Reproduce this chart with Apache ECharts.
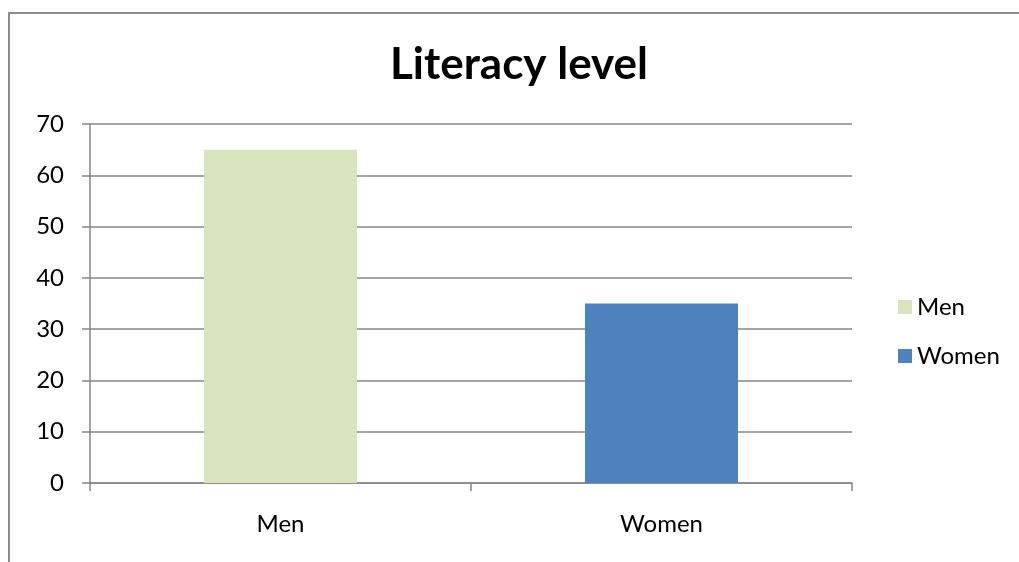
<!DOCTYPE html>
<html>
<head>
<meta charset="utf-8">
<script src="https://cdn.jsdelivr.net/npm/echarts@6/dist/echarts.min.js"></script>
<style>
  html, body { margin: 0; padding: 0; background: #fff; overflow: hidden; }
  #wrap { position: relative; width: 1019px; height: 562px; }
  #frame {
    position: absolute; left: 8px; top: 12px; right: -20px; bottom: -20px;
    border-left: 2px solid #8c8c8c; border-top: 2px solid #8c8c8c;
    pointer-events: none;
  }
  #chart { position: absolute; left: 0; top: 0; width: 1019px; height: 562px; }
</style>
</head>
<body>
<div id="wrap">
  <div id="chart"></div>
  <div id="frame"></div>
</div>
<script>
const categories = ['Men', 'Women'];
const values = [65, 35];
const barColors = ['#D7E4BD', '#4F81BD'];

const chart = echarts.init(document.getElementById('chart'));
const font = 'Lato, "Open Sans", sans-serif';

const option = {
  animation: false,
  title: {
    text: 'Literacy level',
    left: 514,
    top: 38,
    textAlign: 'center',
    textStyle: { fontFamily: font, fontSize: 44, fontWeight: 'bold', color: '#000' }
  },
  legend: {
    orient: 'vertical',
    left: 893,
    top: 290,
    itemWidth: 14,
    itemHeight: 14,
    itemGap: 25,
    icon: 'rect',
    textStyle: { fontFamily: font, fontSize: 24, color: '#000' },
    data: categories
  },
  grid: { left: 90, right: 167, top: 124, bottom: 79 },
  xAxis: {
    type: 'category',
    data: categories,
    axisLine: { lineStyle: { color: '#868686', width: 1.5 } },
    axisTick: { show: true, interval: 0, length: 8, lineStyle: { color: '#868686', width: 1.5 } },
    axisLabel: { fontFamily: font, fontSize: 24, color: '#000', margin: 29 }
  },
  yAxis: {
    type: 'value',
    min: 0,
    max: 70,
    interval: 10,
    axisLine: { show: true, lineStyle: { color: '#868686', width: 1.5 } },
    axisTick: { show: true, inside: false, length: 8, lineStyle: { color: '#868686', width: 1.5 } },
    axisLabel: { fontFamily: font, fontSize: 24, color: '#000', margin: 26 },
    splitLine: { lineStyle: { color: '#868686', width: 1.5 } }
  },
  series: categories.map((name, i) => ({
    name: name,
    type: 'bar',
    stack: 'all',
    barWidth: 153,
    itemStyle: { color: barColors[i] },
    data: categories.map((c, j) => (i === j ? values[j] : null))
  }))
};

chart.setOption(option);
</script>
</body>
</html>
